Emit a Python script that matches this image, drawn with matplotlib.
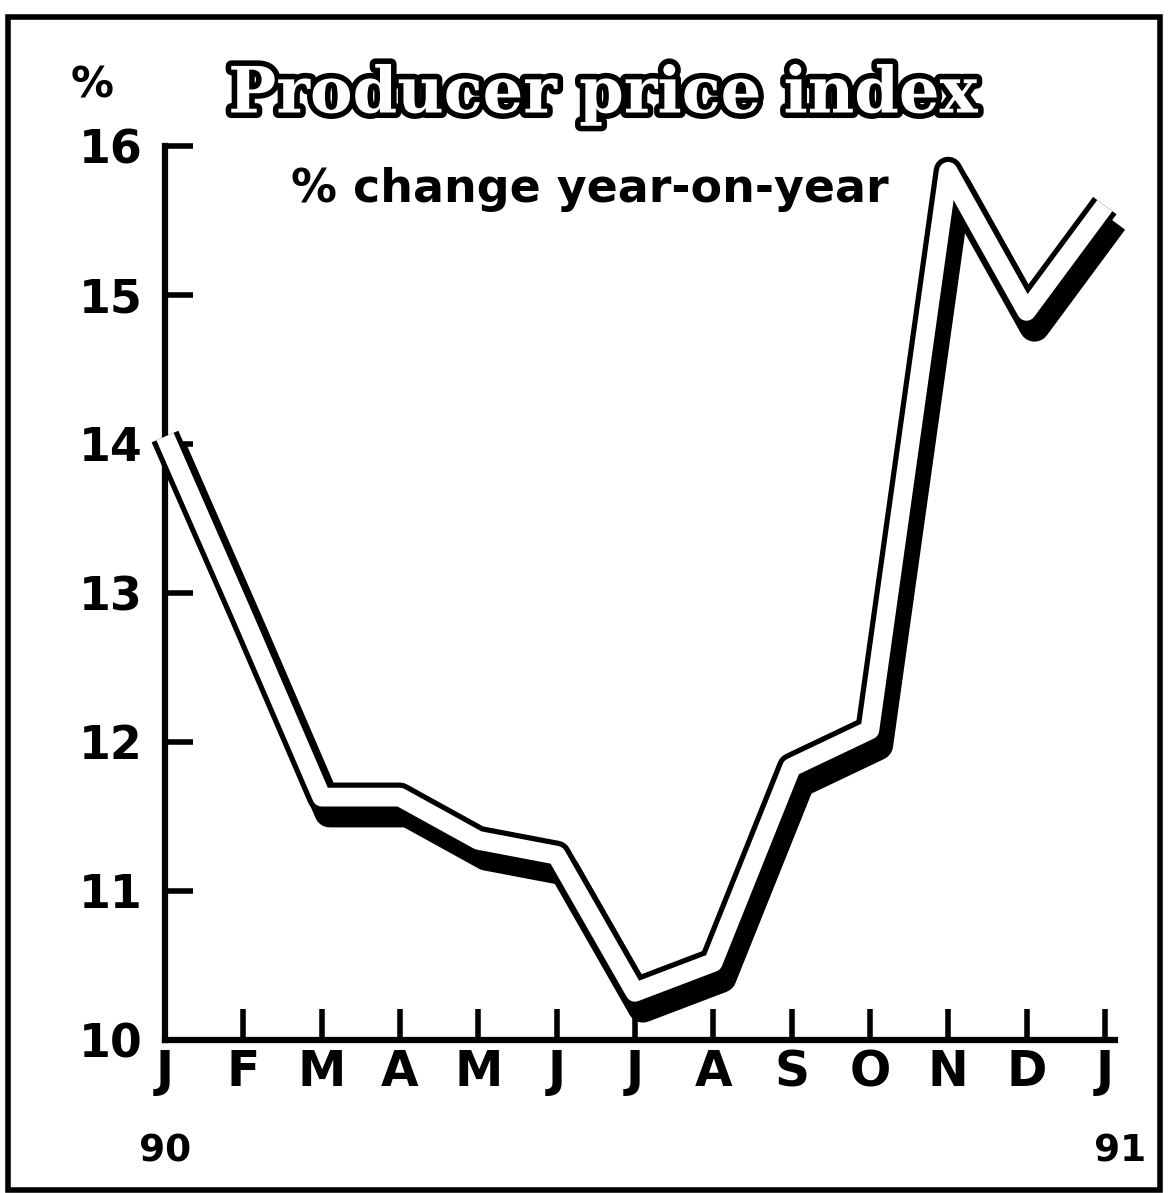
import matplotlib
matplotlib.use('Agg')
import matplotlib.pyplot as plt
import matplotlib.patheffects as pe
import matplotlib.transforms as mtransforms
from matplotlib.patches import Rectangle

# Producer price index, % change year-on-year, Jan 1990 - Jan 1991
months = ['J', 'F', 'M', 'A', 'M', 'J', 'J', 'A', 'S', 'O', 'N', 'D', 'J']
ppi = [14.05, 12.85, 11.63, 11.63, 11.34, 11.24, 10.32, 10.52, 11.83, 12.08, 15.83, 14.89, 15.6]
y_ticks = [10, 11, 12, 13, 14, 15, 16]
year_labels = ['90', '91']

W, H = 1171, 1193
fig = plt.figure(figsize=(W / 100, H / 100), dpi=100)
fig.patch.set_facecolor('white')

# axes placed in pixel terms of the reference
left, bottom, right, top = 165, 1040, 1115, 146
ax = fig.add_axes([left / W, (H - bottom) / H, (right - left) / W, (bottom - top) / H])
ax.set_xlim(0, 12.13)
ax.set_ylim(10, 16)
ax.set_facecolor('none')

x = list(range(len(months)))

# shadow + outlined white ribbon
shadow = mtransforms.offset_copy(ax.transData, fig=fig, x=8, y=-15, units='dots')
ax.plot(x, ppi, color='black', lw=22, transform=shadow, clip_on=False,
        solid_joinstyle='round', solid_capstyle='butt', zorder=3)
ax.plot(x, ppi, color='black', lw=21, clip_on=False,
        solid_joinstyle='round', solid_capstyle='butt', zorder=4)
ax.plot(x, ppi, color='white', lw=13.5, clip_on=False,
        solid_joinstyle='round', solid_capstyle='butt', zorder=5)

for side in ['top', 'right']:
    ax.spines[side].set_visible(False)
for side in ['left', 'bottom']:
    ax.spines[side].set_linewidth(4.5)

ax.set_yticks(y_ticks)
ax.set_yticklabels([str(v) for v in y_ticks], fontsize=33, fontweight='bold')
ax.set_xticks(x)
ax.set_xticklabels(months, fontsize=35, fontweight='bold')
ax.tick_params(axis='y', direction='in', length=20, width=4, pad=16)
ax.tick_params(axis='x', direction='in', length=22, width=4, pad=6)

# year labels under first and last month
ax.text(0, -0.105, year_labels[0], transform=ax.get_xaxis_transform(), ha='center', va='top',
        fontsize=27, fontweight='bold')
ax.text(12.2, -0.105, year_labels[1], transform=ax.get_xaxis_transform(), ha='center', va='top',
        fontsize=27, fontweight='bold')

# unit label
fig.text(92 / W, 1 - 85 / H, '%', ha='center', va='center', fontsize=31, fontweight='bold')

# title, white lettering outlined in black
title = fig.text(603 / W, 1 - 95 / H, 'Producer price index', ha='center', va='center',
                 fontsize=46, fontweight='bold', color='white', family='DejaVu Serif')
title.set_path_effects([pe.Stroke(linewidth=8, foreground='black'), pe.Normal()])
fig.text(590 / W, 1 - 190 / H, '% change year-on-year', ha='center', va='center',
         fontsize=33, fontweight='bold')

# frame around the whole graphic
fig.patches.append(Rectangle((8 / W, 3 / H), (1160 - 8) / W, (1176 - 3) / H,
                             transform=fig.transFigure, fill=False, lw=4, edgecolor='black'))

fig.savefig('out.png', dpi=100, facecolor='white')
